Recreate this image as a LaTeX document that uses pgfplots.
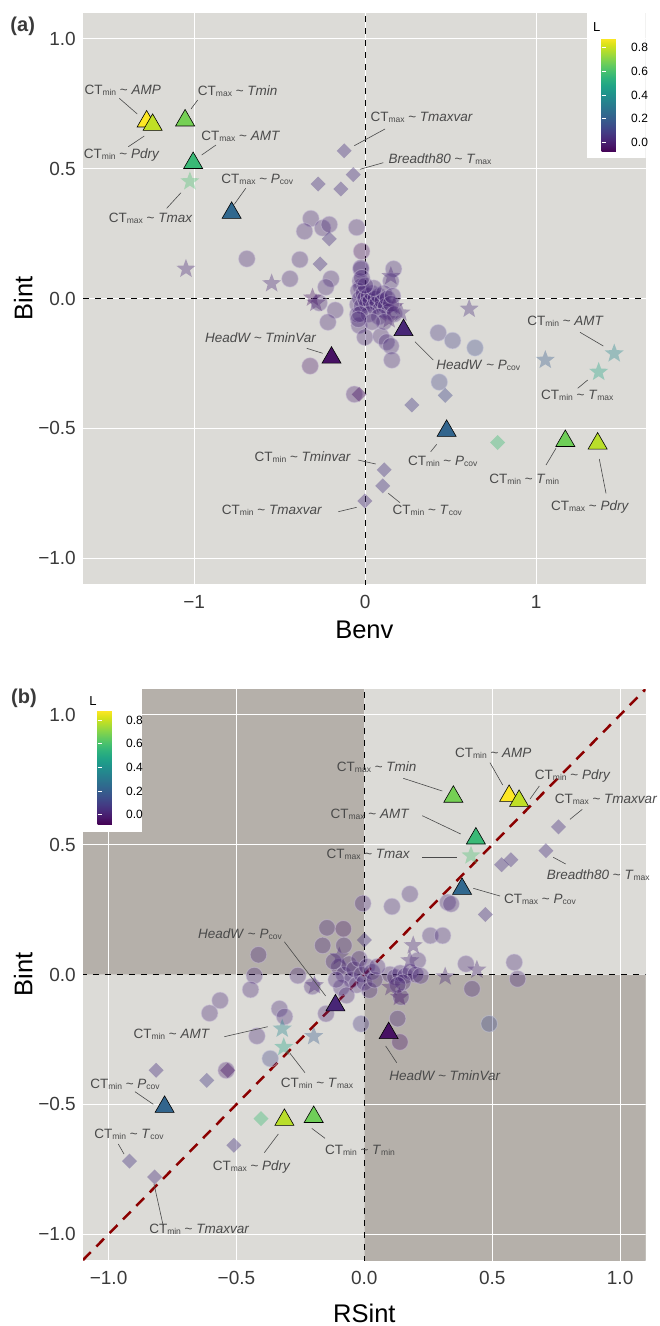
\documentclass[border=0pt]{standalone}
\usepackage{pgfplots}
\pgfplotsset{compat=1.18}
\usepackage{pgfplotstable}
\usepackage{fontspec}
\setmainfont{Liberation Sans}
\usetikzlibrary{plotmarks}

\definecolor{bgA}{HTML}{DCDBD7}
\definecolor{darkq}{HTML}{B5B0AA}
\definecolor{tickc}{HTML}{3A3A3A}
\definecolor{annc}{HTML}{4A4A4A}
\definecolor{diagred}{HTML}{8B0000}

\pgfdeclareplotmark{fstar}{%
 \pgfpathmoveto{\pgfpointpolar{90}{\pgfplotmarksize}}%
 \pgfpathlineto{\pgfpointpolar{126}{0.42\pgfplotmarksize}}%
 \pgfpathlineto{\pgfpointpolar{162}{\pgfplotmarksize}}%
 \pgfpathlineto{\pgfpointpolar{198}{0.42\pgfplotmarksize}}%
 \pgfpathlineto{\pgfpointpolar{234}{\pgfplotmarksize}}%
 \pgfpathlineto{\pgfpointpolar{270}{0.42\pgfplotmarksize}}%
 \pgfpathlineto{\pgfpointpolar{306}{\pgfplotmarksize}}%
 \pgfpathlineto{\pgfpointpolar{342}{0.42\pgfplotmarksize}}%
 \pgfpathlineto{\pgfpointpolar{18}{\pgfplotmarksize}}%
 \pgfpathlineto{\pgfpointpolar{54}{0.42\pgfplotmarksize}}%
 \pgfpathclose
 \pgfusepathqfillstroke
}

\newcommand{\sbx}[1]{\raisebox{-1pt}{\fontsize{8.5}{8.5}\selectfont #1}}
\newcommand{\CTmin}{CT\sbx{min}}
\newcommand{\CTmax}{CT\sbx{max}}
\newcommand{\tld}{\textasciitilde}

% ---------- panel (a) data ----------
\pgfplotstableread{
x y L
-0.692 0.153 0.02
-0.382 0.150 0.02
-0.440 0.076 0.02
-0.318 0.308 0.02
-0.355 0.259 0.02
-0.249 0.272 0.02
-0.210 0.285 0.02
-0.050 0.274 0.02
-0.021 0.182 -0.04
-0.200 0.076 0.02
-0.230 0.044 0.02
-0.269 -0.017 0.02
-0.175 -0.045 0.02
-0.025 0.112 0.02
-0.029 0.067 0.02
0.166 0.114 0.03
0.150 0.067 0.03
-0.218 -0.091 0.02
-0.322 -0.260 -0.03
-0.035 -0.104 0.02
-0.002 -0.149 0.02
0.092 -0.145 0.02
0.125 -0.168 0.02
0.150 -0.183 0.03
0.156 -0.237 0.03
0.427 -0.132 0.07
0.511 -0.162 0.09
0.642 -0.190 0.13
0.433 -0.322 0.11
-0.064 -0.369 0.0
-0.025 0.118 0.02
-0.025 0.047 0.02
-0.044 -0.023 0.02
-0.044 -0.062 0.02
-0.04 0.03 0.02
-0.03 0.00 0.02
-0.02 -0.03 0.02
-0.01 0.02 0.02
0.00 0.00 0.02
0.01 -0.02 0.02
0.02 0.01 0.02
0.03 -0.01 0.02
0.04 0.02 0.02
0.05 -0.03 0.02
0.06 0.00 0.02
0.07 -0.02 0.02
0.08 0.01 0.02
0.09 -0.04 0.02
0.10 -0.01 0.02
0.11 0.02 0.02
0.12 -0.03 0.02
0.13 0.00 0.02
0.14 -0.05 0.02
0.15 -0.02 0.02
0.16 0.01 0.02
0.17 -0.06 0.02
0.02 -0.06 0.02
-0.03 -0.06 0.02
0.05 0.04 0.02
0.00 0.05 0.02
-0.02 0.08 0.02
0.08 -0.07 0.02
0.11 -0.09 0.02
0.04 -0.09 0.02
-0.04 -0.08 0.02
}\circA

\pgfplotstableread{
x y L
-0.123 0.569 0.05
-0.070 0.477 0.05
-0.142 0.422 0.05
-0.275 0.441 0.05
-0.210 0.230 0.05
-0.263 0.133 0.05
-0.035 -0.369 -0.04
0.273 -0.410 0.08
0.468 -0.373 0.12
0.774 -0.555 0.58
0.111 -0.660 0.06
0.102 -0.722 0.06
-0.002 -0.780 0.04
}\diamA

\pgfplotstableread{
x y L
-1.025 0.451 0.60
-1.048 0.114 0.02
-0.547 0.058 0.02
-0.308 0.003 -0.04
-0.288 -0.017 0.0
0.150 0.086 0.02
0.608 -0.040 0.04
0.209 -0.055 0.02
0.140 -0.081 0.0
0.170 -0.030 0.0
1.456 -0.212 0.36
1.053 -0.237 0.20
1.365 -0.283 0.48
}\starA

\pgfplotstableread{
x y L
-1.278 0.682 0.88
-1.243 0.669 0.79
-1.053 0.686 0.68
-1.006 0.522 0.57
-0.781 0.330 0.24
-0.197 -0.228 -0.04
0.224 -0.122 0.02
0.476 -0.510 0.23
1.170 -0.549 0.67
1.359 -0.559 0.78
}\triA

% ---------- panel (b) data ----------
\pgfplotstableread{
x y L
-0.006 0.274 0.02
-0.146 0.180 0.02
-0.082 0.176 -0.02
-0.163 0.112 0.02
-0.080 0.112 0.02
-0.414 0.076 0.02
-0.430 -0.004 0.02
-0.445 -0.058 0.02
-0.260 -0.004 0.02
-0.204 -0.046 0.02
-0.564 -0.100 0.02
-0.605 -0.149 0.02
-0.332 -0.132 0.03
-0.312 -0.162 0.03
-0.420 -0.237 0.03
-0.368 -0.324 0.11
-0.150 -0.151 0.02
-0.013 -0.190 0.07
-0.540 -0.369 0.0
0.178 0.310 0.03
0.108 0.262 0.03
0.326 0.278 0.02
0.339 0.272 0.02
0.258 0.150 0.03
0.306 0.150 0.03
0.209 0.054 0.02
0.397 0.041 0.02
0.586 0.047 0.03
0.599 -0.017 0.02
0.421 -0.055 0.02
0.488 -0.190 0.13
0.143 -0.087 0.02
0.130 -0.170 0.02
0.139 -0.260 -0.03
0.10 0.000 0.02
0.12 -0.010 0.02
0.14 0.005 0.02
0.16 -0.005 0.02
0.18 0.010 0.02
0.20 0.000 0.02
0.22 -0.005 0.02
0.15 -0.030 0.02
0.13 -0.040 0.02
-0.10 0.030 0.02
-0.08 0.000 0.02
-0.06 0.040 0.02
-0.05 -0.020 0.02
-0.04 0.020 0.02
-0.03 -0.040 0.02
-0.02 0.060 0.02
-0.01 0.000 0.02
0.00 -0.030 0.02
0.01 0.030 0.02
0.02 -0.060 0.02
0.03 0.010 0.02
0.04 -0.020 0.02
-0.09 -0.050 0.02
-0.07 -0.080 0.02
-0.12 0.050 0.02
-0.11 -0.020 0.02
0.05 0.030 0.02
}\circB

\pgfplotstableread{
x y L
0.759 0.569 0.05
0.710 0.477 0.05
0.573 0.442 0.05
0.537 0.423 0.05
0.473 0.231 0.05
0.000 0.133 0.05
-0.814 -0.369 0.05
-0.534 -0.369 -0.04
-0.616 -0.408 0.08
-0.404 -0.555 0.58
-0.510 -0.658 0.06
-0.918 -0.719 0.06
-0.820 -0.780 0.04
}\diamB

\pgfplotstableread{
x y L
0.417 0.458 0.60
-0.321 -0.209 0.36
-0.198 -0.238 0.20
-0.315 -0.280 0.48
0.191 0.112 0.02
0.316 -0.008 0.02
0.440 0.018 0.02
0.178 0.054 0.02
-0.195 -0.042 0.02
-0.098 0.069 0.02
0.137 -0.087 -0.02
0.104 -0.049 0.0
}\starB

\pgfplotstableread{
x y L
0.566 0.688 0.88
0.605 0.669 0.79
0.348 0.685 0.68
0.436 0.524 0.57
0.382 0.330 0.24
0.095 -0.226 -0.04
-0.113 -0.119 0.02
-0.781 -0.510 0.23
-0.198 -0.549 0.67
-0.3125 -0.560 0.78
}\triB

\pgfplotsset{
  base/.style={
    scale only axis, width=562.7pt, height=571pt,
    ymin=-1.1, ymax=1.1,
    ytick={-1,-0.5,0,0.5,1}, yticklabels={−1.0,−0.5,0.0,0.5,1.0},
    grid=major, major grid style={white, line width=1pt},
    axis line style={draw=none}, major tick length=0pt,
    tick label style={font=\fontsize{19}{19}\selectfont, text=tickc},
    xticklabel style={inner sep=0pt, yshift=-11pt},
    yticklabel style={inner sep=0pt, xshift=-7pt},
    label style={font=\fontsize{25.5}{25.5}\selectfont},
    ylabel style={at={(axis description cs:-0.106,0.5)}, anchor=center},
    axis background/.style={fill=bgA},
    colormap/viridis, point meta min=-0.08, point meta max=0.88,
    clip=true,
  },
  cbar/.style={
    scale only axis, grid=none, xlabel={}, ylabel={},
    ytick={0,0.2,0.4,0.6,0.8}, yticklabels={0.0,0.2,0.4,0.6,0.8},
    yticklabel style={font=\fontsize{12}{12}\selectfont, text=black, inner sep=0pt},
    major tick length=4pt, tick style={white, line width=0.8pt}, tick align=inside,
    ytick pos=both, yticklabel pos=right,
    axis line style={draw=none},
  },
  circs/.style={scatter, only marks, mark=*, mark size=8.3pt, point meta=explicit,
    scatter/use mapped color={draw=mapped color!30!white, fill=mapped color},
    mark options={fill opacity=0.34, draw opacity=0.5, line width=0.9pt}},
  diams/.style={scatter, only marks, mark=square*, mark size=5.3pt, point meta=explicit,
    scatter/use mapped color={draw=mapped color, fill=mapped color},
    mark options={rotate=45, fill opacity=0.4, draw opacity=0}},
  stars/.style={scatter, only marks, mark=fstar, mark size=10pt, point meta=explicit,
    scatter/use mapped color={draw=mapped color, fill=mapped color},
    mark options={fill opacity=0.36, draw opacity=0}},
  tris/.style={scatter, only marks, mark=triangle*, mark size=11pt, point meta=explicit,
    scatter/use mapped color={draw=black, fill=mapped color},
    mark options={line width=0.6pt}},
  zerodash/.style={black, line width=1.2pt, dash pattern=on 6pt off 6pt},
  gridw/.style={white, line width=1pt},
}

\tikzset{
  lbl/.style={font=\fontsize{13.5}{13.5}\selectfont, text=annc, inner sep=0pt, anchor=center},
  ld/.style={annc, line width=0.6pt},
}

\begin{document}
\begin{tikzpicture}
\useasboundingbox (0,0) rectangle (660pt,-1326pt);

% ================= panel (a) =================
\begin{axis}[base, at={(83pt,-13pt)}, anchor=north west,
  xmin=-1.65, xmax=1.64, xtick={-1,0,1}, xticklabels={−1,0,1},
  xlabel={Benv}, ylabel={Bint},
  xlabel style={at={(axis description cs:0.5,-0.0806)}, anchor=center},
  colorbar,
  colorbar style={cbar, at={(parent axis.north east)}, anchor=north west,
    xshift=-52.7pt, yshift=-25pt, width=24pt, height=114pt,
    yticklabel style={xshift=5.5pt}},
]
 \addplot[circs] table[meta=L]{\circA};
 \addplot[diams] table[meta=L]{\diamA};
 \addplot[stars] table[meta=L]{\starA};
 \addplot[zerodash] coordinates {(0,-1.2) (0,1.2)};
 \addplot[zerodash] coordinates {(-2,0) (2,0)};
 \fill[white] (rel axis cs:0.8957,0.746) rectangle (rel axis cs:1,1);
 \addplot[tris] table[meta=L]{\triA};
\end{axis}

% ================= panel (b) =================
\begin{axis}[base, at={(83pt,-689pt)}, anchor=north west,
  xmin=-1.1, xmax=1.1, xtick={-1,-0.5,0,0.5,1}, xticklabels={−1.0,−0.5,0.0,0.5,1.0},
  xlabel={RSint}, ylabel={Bint},
  xlabel style={at={(axis description cs:0.5,-0.094)}, anchor=center},
  colorbar,
  colorbar style={cbar, at={(parent axis.north west)}, anchor=north west,
    xshift=6pt, yshift=-21.7pt, width=23pt, height=113.6pt,
    yticklabel style={xshift=5.5pt}},
]
 \addplot[fill=darkq, draw=none] coordinates {(-1.2,0) (0,0) (0,1.2) (-1.2,1.2) (-1.2,0)};
 \addplot[fill=darkq, draw=none] coordinates {(0,-1.2) (1.2,-1.2) (1.2,0) (0,0) (0,-1.2)};
 \addplot[gridw] coordinates {(-1,-1.2) (-1,1.2)};
 \addplot[gridw] coordinates {(-0.5,-1.2) (-0.5,1.2)};
 \addplot[gridw] coordinates {(0.5,-1.2) (0.5,1.2)};
 \addplot[gridw] coordinates {(1,-1.2) (1,1.2)};
 \addplot[gridw] coordinates {(-1.2,-1) (1.2,-1)};
 \addplot[gridw] coordinates {(-1.2,-0.5) (1.2,-0.5)};
 \addplot[gridw] coordinates {(-1.2,0.5) (1.2,0.5)};
 \addplot[gridw] coordinates {(-1.2,1) (1.2,1)};
 \addplot[circs] table[meta=L]{\circB};
 \addplot[diams] table[meta=L]{\diamB};
 \addplot[stars] table[meta=L]{\starB};
 \addplot[zerodash] coordinates {(0,-1.2) (0,1.2)};
 \addplot[zerodash] coordinates {(-2,0) (2,0)};
 \addplot[diagred, line width=2.5pt, dash pattern=on 11pt off 8pt] coordinates {(-1.1,-1.1) (1.1,1.1)};
 \fill[white] (rel axis cs:0,0.75) rectangle (rel axis cs:0.1043,1);
 \addplot[tris] table[meta=L]{\triB};
\end{axis}

\begin{scope}[x=1pt,y=-1pt]
 \node[font=\bfseries\fontsize{20}{20}\selectfont, text=tickc] at (22.7,26.7) {(a)};
 \node[font=\bfseries\fontsize{20}{20}\selectfont, text=tickc] at (24,698.3) {(b)};
 \node[font=\fontsize{13}{13}\selectfont] at (596.7,26.7) {L};
 \node[font=\fontsize{13}{13}\selectfont] at (93,700.7) {L};

 % ---- panel (a) annotations ----
 \node[lbl] at (122.7,90.7) {\CTmin{} \tld{} \textit{AMP}};
 \draw[ld] (119.3,98.3) -- (137.3,114);
 \node[lbl] at (121.7,155) {\CTmin{} \tld{} \textit{Pdry}};
 \draw[ld] (128.3,146.7) -- (144.3,136);
 \node[lbl] at (237.7,90.7) {\CTmax{} \tld{} \textit{Tmin}};
 \draw[ld] (197.7,100) -- (191,109);
 \node[lbl] at (240.7,136.7) {\CTmax{} \tld{} \textit{AMT}};
 \draw[ld] (216,145) -- (201.7,155);
 \node[lbl] at (150.7,218.3) {\CTmax{} \tld{} \textit{Tmax}};
 \draw[ld] (166.7,208.3) -- (181,192.7);
 \node[lbl] at (257.3,179) {\CTmax{} \tld{} \textit{P}\sbx{cov}};
 \draw[ld] (245.7,188.3) -- (234.3,204.3);
 \node[lbl] at (421.7,117.3) {\CTmax{} \tld{} \textit{Tmaxvar}};
 \draw[ld] (385,129) -- (354.3,145.7);
 \node[lbl] at (440,159.3) {\textit{Breadth80} \tld{} \textit{T}\sbx{max}};
 \draw[ld] (383.3,162.7) -- (360,169.3);
 \node[lbl] at (260.7,337.3) {\textit{HeadW \tld{} TminVar}};
 \draw[ld] (306.7,348.3) -- (322.7,353.3);
 \node[lbl] at (478.3,365) {\textit{HeadW} \tld{} \textit{P}\sbx{cov}};
 \draw[ld] (415,341.7) -- (433.3,360);
 \node[lbl] at (565.5,321.7) {\CTmin{} \tld{} \textit{AMT}};
 \draw[ld] (580,332.3) -- (603.3,346);
 \node[lbl] at (577.3,395) {\CTmin{} \tld{} \textit{T}\sbx{max}};
 \draw[ld] (577.7,388.3) -- (587.7,380);
 \node[lbl] at (442.7,461) {\CTmin{} \tld{} \textit{P}\sbx{cov}};
 \draw[ld] (430.7,451.7) -- (436.7,444.3);
 \node[lbl] at (524.3,479) {\CTmin{} \tld{} \textit{T}\sbx{min}};
 \draw[ld] (546,465) -- (556,448.3);
 \node[lbl] at (590,506.7) {\CTmax{} \tld{} \textit{Pdry}};
 \draw[ld] (606,493.3) -- (599.3,459);
 \node[lbl] at (427.3,510.7) {\CTmin{} \tld{} \textit{T}\sbx{cov}};
 \draw[ld] (400,502.7) -- (388.3,493.3);
 \node[lbl] at (302.8,457.3) {\CTmin{} \tld{} \textit{Tminvar}};
 \draw[ld] (358,460) -- (375.7,464);
 \node[lbl] at (272,510) {\CTmin{} \tld{} \textit{Tmaxvar}};
 \draw[ld] (338.3,511.7) -- (356.7,507.3);

 % ---- panel (b) annotations ----
 \node[lbl] at (493.3,753.3) {\CTmin{} \tld{} \textit{AMP}};
 \draw[ld] (490,762.7) -- (502.7,785);
 \node[lbl] at (572.7,776) {\CTmin{} \tld{} \textit{Pdry}};
 \draw[ld] (539.3,786) -- (530,799);
 \node[lbl] at (376.7,767.3) {\CTmax{} \tld{} \textit{Tmin}};
 \draw[ld] (403.3,778.3) -- (442.3,791);
 \node[lbl] at (606,799.3) {\CTmax{} \tld{} \textit{Tmaxvar}};
 \draw[ld] (582.3,809.3) -- (570,819.3);
 \node[lbl] at (370,814) {\CTmax{} \tld{} \textit{AMT}};
 \draw[ld] (422.3,815.7) -- (460.7,834);
 \node[lbl] at (368.3,854.3) {\CTmax{} \tld{} \textit{Tmax}};
 \draw[ld] (422.3,857.3) -- (456.7,857.3);
 \node[lbl] at (598.3,875) {\textit{Breadth80} \tld{} \textit{T}\sbx{max}};
 \draw[ld] (565.7,864) -- (553.3,857.3);
 \node[lbl] at (540,899.3) {\CTmax{} \tld{} \textit{P}\sbx{cov}};
 \draw[ld] (500,896) -- (473.3,888.3);
 \node[lbl] at (240,934) {\textit{HeadW} \tld{} \textit{P}\sbx{cov}};
 \draw[ld] (284.3,941.7) -- (325.7,996);
 \node[lbl] at (171.7,1034.3) {\CTmin{} \tld{} \textit{AMT}};
 \draw[ld] (224.3,1036.7) -- (267.7,1026.7);
 \node[lbl] at (317,1083.3) {\CTmin{} \tld{} \textit{T}\sbx{max}};
 \draw[ld] (305,1072.7) -- (290,1053.3);
 \node[lbl] at (445,1075.7) {\textit{HeadW \tld{} TminVar}};
 \draw[ld] (396.7,1062.7) -- (385.7,1046);
 \node[lbl] at (125,1084) {\CTmin{} \tld{} \textit{P}\sbx{cov}};
 \draw[ld] (135,1091.7) -- (153.3,1104.3);
 \node[lbl] at (360,1150) {\CTmin{} \tld{} \textit{T}\sbx{min}};
 \draw[ld] (311.7,1128.3) -- (325,1138.3);
 \node[lbl] at (251.7,1167.3) {\CTmax{} \tld{} \textit{Pdry}};
 \draw[ld] (264.3,1152.7) -- (278.3,1134);
 \node[lbl] at (129,1134) {\CTmin{} \tld{} \textit{T}\sbx{cov}};
 \draw[ld] (118.3,1144) -- (124,1154);
 \node[lbl] at (199.3,1229.3) {\CTmin{} \tld{} \textit{Tmaxvar}};
 \draw[ld] (163.3,1226) -- (154,1184);
\end{scope}
\end{tikzpicture}
\end{document}
